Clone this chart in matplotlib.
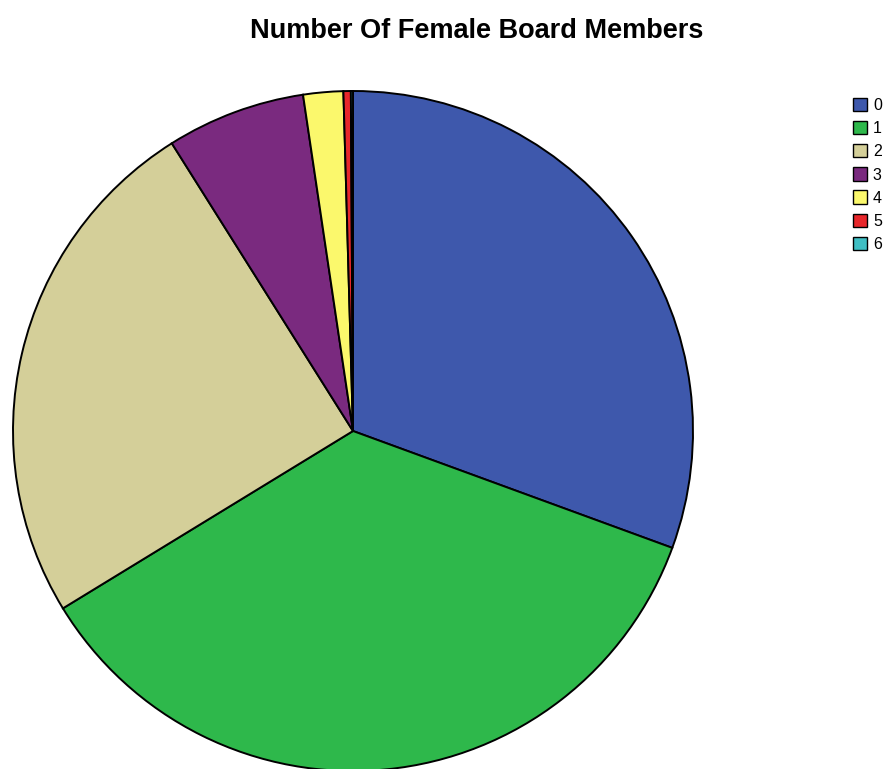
import matplotlib.pyplot as plt
from matplotlib.patches import Patch

plt.rcParams['font.family'] = ['Liberation Sans', 'DejaVu Sans']

# share of companies by number of women on the board (%)
categories = ['0', '1', '2', '3', '4', '5', '6']
shares = [30.6, 35.7, 24.8, 6.6, 1.9, 0.35, 0.1]
colors = ['#3E58AC', '#2EB84B', '#D4CF99', '#7A2A7F', '#FBF86C', '#E8272B', '#40BFC4']

W, H = 888, 769
fig = plt.figure(figsize=(W / 100, H / 100), dpi=100)

# pie centre and radius in pixels
cx, cy, r = 353, 431, 340
ax = fig.add_axes([(cx - r) / W, (H - cy - r) / H, 2 * r / W, 2 * r / H])
ax.pie(shares, colors=colors, startangle=90, counterclock=False,
       wedgeprops=dict(edgecolor='black', linewidth=1.4))
ax.set_xlim(-1, 1)
ax.set_ylim(-1, 1)
ax.set_aspect('auto')
ax.axis('off')

fig.text(477 / W, 1 - 31 / H, 'Number Of Female Board Members',
         ha='center', va='center', fontsize=19.5, fontweight='bold')

handles = [Patch(facecolor=c, edgecolor='black', linewidth=1) for c in colors]
fig.legend(handles, categories, loc='upper left',
           bbox_to_anchor=(845 / W, 1 - 90 / H), frameon=False,
           fontsize=11.5, handlelength=0.9, handleheight=0.9,
           handletextpad=0.35, labelspacing=0.5, borderpad=0)

fig.savefig('out.png', dpi=100)
